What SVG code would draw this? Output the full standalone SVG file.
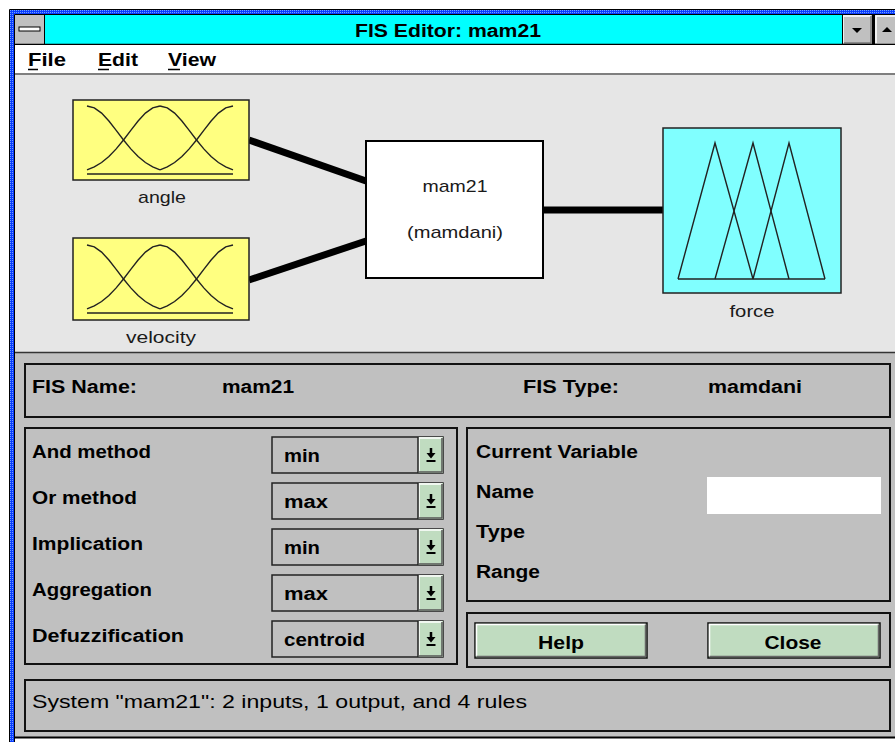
<svg xmlns="http://www.w3.org/2000/svg" width="895" height="742" viewBox="0 0 895 742">
<defs>
<style>
.ui{font-family:"Liberation Sans",Arial,sans-serif;font-weight:bold;font-size:18px;fill:#000}
.lbl{font-family:"Liberation Sans",Arial,sans-serif;font-size:17px;fill:#1a1a1a}
.panel{fill:#c0c0c0;stroke:#111;stroke-width:2}
.dd{fill:#c0c0c0;stroke:#222;stroke-width:1.5}
.btn{fill:#c0dcc0;stroke:#111;stroke-width:1.5}
.mf{fill:none;stroke:#222;stroke-width:1.4}
.conn{stroke:#000;stroke-width:7;fill:none}
</style>
<pattern id="dots" width="2" height="2" patternUnits="userSpaceOnUse">
<rect width="2" height="2" fill="#0a3cff"/>
<rect width="1" height="1" fill="#6fa0ff"/>
</pattern>
<path id="hg" d="M0,6 L7.3,7.9 L14.6,13.1 L21.9,21 L29.2,30.4 L36.5,40 L43.8,48.9 L51.1,56.5 L58.4,62.5 L65.7,66.8 L73,69.8"/>
<g id="ddbtn">
<rect x="0" y="0" width="25" height="36" fill="#c0dcc0"/>
<path d="M1,35 V1 H24" fill="none" stroke="#fff" stroke-width="1.5"/>
<path d="M1,35 H24 V1" fill="none" stroke="#555" stroke-width="1.5"/>
<path d="M0,0 V36" stroke="#222" stroke-width="1.5"/>
<path d="M13,11 V17" stroke="#000" stroke-width="2.5"/>
<path d="M8.5,16 H17.5 L13,21.5 Z" fill="#000"/>
<path d="M8.5,24 H17.5" stroke="#000" stroke-width="2"/>
</g>
<g id="mfset" class="mf">
<use href="#hg" transform="translate(14,0)"/>
<use href="#hg" transform="translate(87,0) scale(-1,1)"/>
<use href="#hg" transform="translate(87,0)"/>
<use href="#hg" transform="translate(160,0) scale(-1,1)"/>
<path d="M14,74 H160"/>
</g>
</defs>

<!-- window background -->
<rect x="0" y="0" width="895" height="742" fill="#fff"/>
<rect x="10" y="10" width="885" height="4" fill="url(#dots)"/>
<rect x="10" y="10" width="4" height="732" fill="url(#dots)"/>
<path d="M9.5,742 V9.5 H895" fill="none" stroke="#000" stroke-width="1"/>

<!-- title bar -->
<rect x="15" y="15" width="880" height="29" fill="#00ffff"/>
<path d="M14.5,742 V14.5 H895" fill="none" stroke="#000" stroke-width="1"/>
<rect x="15" y="15" width="29" height="29" fill="#c0c0c0"/>
<path d="M44.5,15 V44" stroke="#000" stroke-width="1"/>
<rect x="19" y="27" width="21" height="4" fill="#fff" stroke="#000" stroke-width="1"/>
<text class="ui" x="448" y="37" text-anchor="middle" font-size="19" textLength="186" lengthAdjust="spacingAndGlyphs">FIS Editor: mam21</text>
<rect x="843" y="15" width="29" height="29" fill="#c0c0c0"/>
<path d="M843,43 V16 H871" fill="none" stroke="#fff" stroke-width="1.5"/>
<path d="M844,43 H871 V16" fill="none" stroke="#777" stroke-width="1.5"/>
<path d="M842.5,15 V44" stroke="#000" stroke-width="1"/>
<path d="M852,28 H862 L857,33 Z" fill="#000"/>
<rect x="872" y="15" width="3" height="29" fill="#000"/>
<rect x="875" y="15" width="20" height="29" fill="#c0c0c0"/>
<path d="M876,43 V16 H895" fill="none" stroke="#fff" stroke-width="1.5"/>
<path d="M882,32 H892 L887,27 Z" fill="#000"/>
<path d="M15,44.5 H895" stroke="#000" stroke-width="1.5"/>

<!-- menu bar -->
<rect x="15" y="45" width="880" height="29" fill="#fff"/>
<path d="M15,74 H895" stroke="#555" stroke-width="1.5"/>
<text class="ui" x="28" y="66" textLength="38" lengthAdjust="spacingAndGlyphs">File</text>
<text class="ui" x="98" y="66" textLength="40" lengthAdjust="spacingAndGlyphs">Edit</text>
<text class="ui" x="168" y="66" textLength="48" lengthAdjust="spacingAndGlyphs">View</text>
<path d="M28,69.5 H38 M98,69.5 H109 M168,69.5 H180" stroke="#000" stroke-width="1.5"/>

<!-- upper diagram area -->
<rect x="15" y="75" width="880" height="277" fill="#e6e6e6"/>

<!-- lower panel area -->
<rect x="15" y="353" width="880" height="384" fill="#c0c0c0"/>
<path d="M15,352.5 H895" stroke="#333" stroke-width="1.5"/>
<path d="M15,737.5 H895" stroke="#000" stroke-width="2"/>

<!-- connectors -->
<g id="connectors">
<path class="conn" d="M249,140 L366,181"/>
<path class="conn" d="M249,280 L366,241"/>
<path class="conn" d="M543,210 L663,210"/>
</g>

<!-- nodes -->
<g id="node-angle">
<rect x="73" y="100" width="176" height="80" fill="#ffff80" stroke="#222" stroke-width="1.5"/>
<use href="#mfset" transform="translate(73,100)"/>
<text class="lbl" x="162" y="203" text-anchor="middle" textLength="48" lengthAdjust="spacingAndGlyphs">angle</text>
</g>
<g id="node-velocity">
<rect x="73" y="238" width="176" height="82" fill="#ffff80" stroke="#222" stroke-width="1.5"/>
<use href="#mfset" transform="translate(73,239)"/>
<text class="lbl" x="161" y="343" text-anchor="middle" textLength="70" lengthAdjust="spacingAndGlyphs">velocity</text>
</g>
<g id="node-mam21">
<rect x="366" y="141" width="177" height="137" fill="#fff" stroke="#000" stroke-width="2"/>
<text class="lbl" x="455" y="192" text-anchor="middle" textLength="65" lengthAdjust="spacingAndGlyphs">mam21</text>
<text class="lbl" x="455" y="238" text-anchor="middle" textLength="96" lengthAdjust="spacingAndGlyphs">(mamdani)</text>
</g>
<g id="node-force">
<rect x="663" y="128" width="178" height="165" fill="#80ffff" stroke="#222" stroke-width="1.5"/>
<g class="mf">
<path d="M678,279 L715,143 L753,279"/>
<path d="M715,279 L753,143 L789,279"/>
<path d="M753,279 L789,143 L825,279"/>
<path d="M678,279 H825"/>
</g>
<text class="lbl" x="752" y="317" text-anchor="middle" textLength="45" lengthAdjust="spacingAndGlyphs">force</text>
</g>

<!-- FIS name / type panel -->
<rect class="panel" x="25" y="364" width="865" height="53"/>
<text class="ui" x="32" y="393" textLength="105" lengthAdjust="spacingAndGlyphs">FIS Name:</text>
<text class="ui" x="222" y="393" textLength="72" lengthAdjust="spacingAndGlyphs">mam21</text>
<text class="ui" x="523" y="393" textLength="96" lengthAdjust="spacingAndGlyphs">FIS Type:</text>
<text class="ui" x="708" y="393" textLength="94" lengthAdjust="spacingAndGlyphs">mamdani</text>

<!-- methods panel -->
<rect class="panel" x="25" y="428" width="432" height="236"/>
<text class="ui" x="32" y="458" textLength="119" lengthAdjust="spacingAndGlyphs">And method</text>
<text class="ui" x="32" y="504" textLength="105" lengthAdjust="spacingAndGlyphs">Or method</text>
<text class="ui" x="32" y="550" textLength="111" lengthAdjust="spacingAndGlyphs">Implication</text>
<text class="ui" x="32" y="596" textLength="120" lengthAdjust="spacingAndGlyphs">Aggregation</text>
<text class="ui" x="32" y="642" textLength="152" lengthAdjust="spacingAndGlyphs">Defuzzification</text>

<rect class="dd" x="272" y="437" width="171" height="36"/>
<use href="#ddbtn" transform="translate(418,437)"/>
<text class="ui" x="284" y="462" textLength="36" lengthAdjust="spacingAndGlyphs">min</text>
<rect class="dd" x="272" y="483" width="171" height="36"/>
<use href="#ddbtn" transform="translate(418,483)"/>
<text class="ui" x="284" y="508" textLength="44" lengthAdjust="spacingAndGlyphs">max</text>
<rect class="dd" x="272" y="529" width="171" height="36"/>
<use href="#ddbtn" transform="translate(418,529)"/>
<text class="ui" x="284" y="554" textLength="36" lengthAdjust="spacingAndGlyphs">min</text>
<rect class="dd" x="272" y="575" width="171" height="36"/>
<use href="#ddbtn" transform="translate(418,575)"/>
<text class="ui" x="284" y="600" textLength="44" lengthAdjust="spacingAndGlyphs">max</text>
<rect class="dd" x="272" y="621" width="171" height="36"/>
<use href="#ddbtn" transform="translate(418,621)"/>
<text class="ui" x="284" y="646" textLength="81" lengthAdjust="spacingAndGlyphs">centroid</text>

<!-- current variable panel -->
<rect class="panel" x="467" y="428" width="423" height="173"/>
<text class="ui" x="476" y="458" textLength="162" lengthAdjust="spacingAndGlyphs">Current Variable</text>
<text class="ui" x="476" y="498" textLength="58" lengthAdjust="spacingAndGlyphs">Name</text>
<text class="ui" x="476" y="538" textLength="49" lengthAdjust="spacingAndGlyphs">Type</text>
<text class="ui" x="476" y="578" textLength="64" lengthAdjust="spacingAndGlyphs">Range</text>
<rect x="707" y="477" width="174" height="37" fill="#fff"/>

<!-- buttons panel -->
<rect class="panel" x="467" y="613" width="423" height="54"/>
<rect class="btn" x="475" y="623" width="172" height="35"/>
<path d="M476.5,656 V624.5 H645.5" fill="none" stroke="#fff" stroke-width="1.5"/>
<path d="M476.5,656.5 H645.5 V624.5" fill="none" stroke="#666" stroke-width="1.5"/>
<text class="ui" x="561" y="649" text-anchor="middle" textLength="46" lengthAdjust="spacingAndGlyphs">Help</text>
<rect class="btn" x="708" y="623" width="172" height="35"/>
<path d="M709.5,656 V624.5 H878.5" fill="none" stroke="#fff" stroke-width="1.5"/>
<path d="M709.5,656.5 H878.5 V624.5" fill="none" stroke="#666" stroke-width="1.5"/>
<text class="ui" x="793" y="649" text-anchor="middle" textLength="57" lengthAdjust="spacingAndGlyphs">Close</text>

<!-- status bar -->
<rect class="panel" x="25" y="680" width="865" height="51"/>
<text x="32" y="708" font-family="'Liberation Sans Narrow','Liberation Sans',Arial,sans-serif" font-size="19" fill="#000" textLength="495" lengthAdjust="spacingAndGlyphs">System "mam21": 2 inputs, 1 output, and 4 rules</text>
</svg>
